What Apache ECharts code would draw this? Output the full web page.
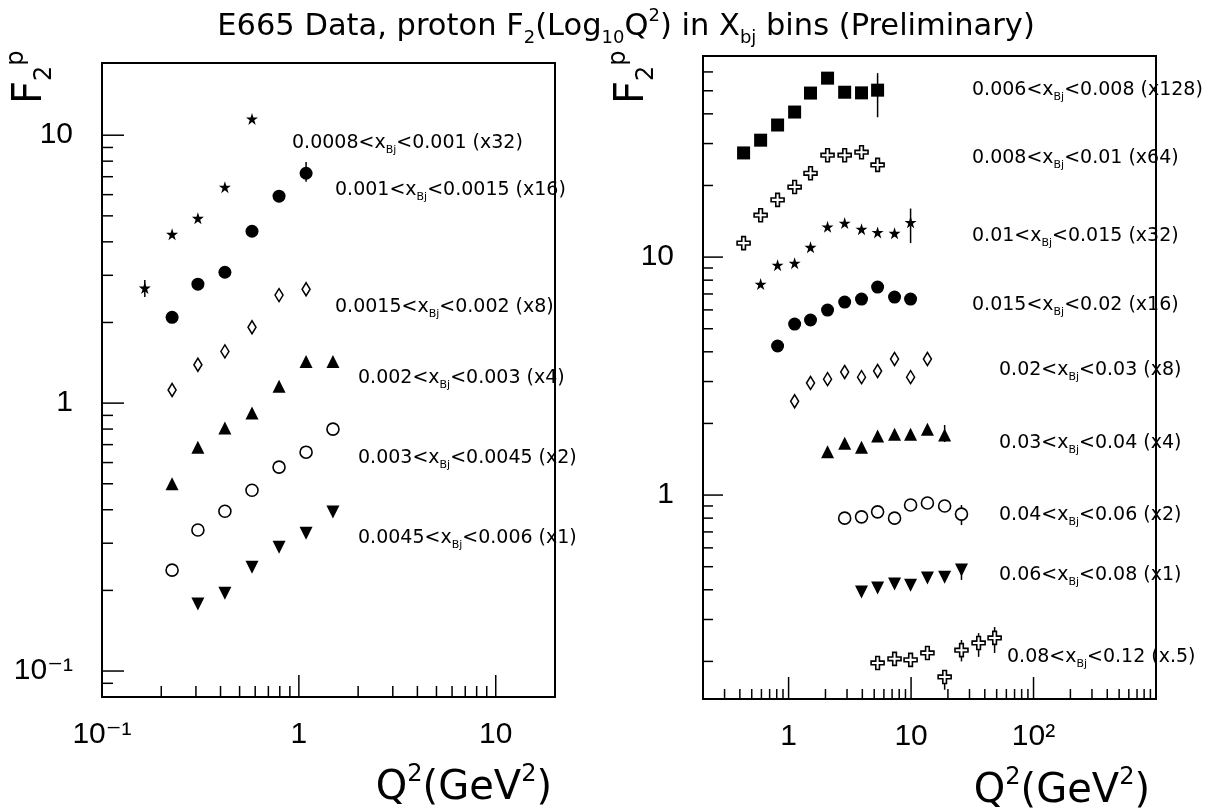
<!DOCTYPE html>
<html><head><meta charset="utf-8">
<script src="https://cdn.jsdelivr.net/npm/echarts@6/dist/echarts.min.js"></script>
<style>html,body{margin:0;padding:0;background:#fff}#c{width:1208px;height:812px}</style>
</head><body><div id="c"></div>
<script>
// ---------------- DATA ----------------
// Left panel (Q2 in GeV2, F2 scaled)
const L32_Q  = [0.165, 0.227, 0.307, 0.421, 0.578];
const L32_F2 = [2.69, 4.27, 4.90, 6.40, 11.5];
const L16_Q  = [0.227, 0.307, 0.421, 0.578, 0.793, 1.088];
const L16_F2 = [2.09, 2.78, 3.08, 4.38, 5.92, 7.21];
const L8_Q   = [0.227, 0.307, 0.421, 0.578, 0.793, 1.088];
const L8_F2  = [1.12, 1.39, 1.56, 1.92, 2.53, 2.66];
const L4_Q   = [0.227, 0.307, 0.421, 0.578, 0.793, 1.088, 1.49];
const L4_F2  = [0.50, 0.685, 0.807, 0.918, 1.157, 1.43, 1.43];
const L2_Q   = [0.227, 0.307, 0.421, 0.578, 0.793, 1.088, 1.49];
const L2_F2  = [0.238, 0.336, 0.395, 0.473, 0.577, 0.656, 0.80];
const L1_Q   = [0.307, 0.421, 0.578, 0.793, 1.088, 1.49];
const L1_F2  = [0.178, 0.195, 0.244, 0.290, 0.327, 0.392];
const L_ERR  = [[0.165, 2.49, 2.88], [1.088, 6.70, 7.94]];

// Right panel
const R128_Q  = [0.429, 0.591, 0.813, 1.12, 1.51, 2.08, 2.87, 3.94, 5.33];
const R128_F2 = [27.4, 31.0, 35.9, 40.7, 48.9, 56.5, 49.3, 49.0, 50.3];
const R64_Q   = [0.429, 0.591, 0.813, 1.12, 1.51, 2.08, 2.87, 3.94, 5.33];
const R64_F2  = [11.45, 15.0, 17.4, 19.7, 22.5, 26.8, 26.8, 27.6, 24.4];
const R32_Q   = [0.591, 0.813, 1.12, 1.51, 2.08, 2.87, 3.94, 5.33, 7.33, 9.91];
const R32_F2  = [7.70, 9.25, 9.43, 11.0, 13.4, 13.9, 13.1, 12.7, 12.6, 14.0];
const R16_Q   = [0.813, 1.12, 1.51, 2.08, 2.87, 3.94, 5.33, 7.33, 9.91];
const R16_F2  = [4.23, 5.23, 5.44, 5.99, 6.47, 6.66, 7.48, 6.79, 6.66];
const R8_Q    = [1.12, 1.51, 2.08, 2.87, 3.94, 5.33, 7.33, 9.91, 13.6];
const R8_F2   = [2.48, 2.96, 3.07, 3.29, 3.13, 3.32, 3.73, 3.13, 3.73];
const R4_Q    = [2.08, 2.87, 3.94, 5.33, 7.33, 9.91, 13.6, 18.8];
const R4_F2   = [1.52, 1.65, 1.59, 1.77, 1.80, 1.80, 1.89, 1.79];
const R2_Q    = [2.87, 3.94, 5.33, 7.33, 9.91, 13.6, 18.8, 25.8];
const R2_F2   = [0.80, 0.81, 0.85, 0.80, 0.908, 0.926, 0.90, 0.832];
const R1_Q    = [3.94, 5.33, 7.33, 9.91, 13.6, 18.8, 25.8];
const R1_F2   = [0.391, 0.407, 0.423, 0.418, 0.448, 0.452, 0.484];
const R05_Q   = [5.33, 7.33, 9.91, 13.6, 18.8, 25.8, 35.6, 48.1];
const R05_F2  = [0.197, 0.205, 0.203, 0.217, 0.172, 0.223, 0.239, 0.251];
const R_ERR   = [[5.33, 38.7, 59.3], [9.91, 11.45, 16.0], [18.8, 1.67, 1.97], [25.8, 0.748, 0.908],
                 [25.8, 0.44, 0.508], [13.6, 0.203, 0.23], [18.8, 0.152, 0.184], [25.8, 0.20, 0.246],
                 [35.6, 0.209, 0.263], [48.1, 0.217, 0.279]];

// Axis ranges and ticks
const L_X_RANGE = [0.1, 20];
const L_Y_RANGE = [0.08, 18.6];
const R_X_RANGE = [0.2, 1000];
const R_Y_RANGE = [0.139, 70];
const L_X_LABELS = [0.1, 1, 10];
const L_Y_LABELS = [0.1, 1, 10];
const R_X_LABELS = [1, 10, 100];
const R_Y_LABELS = [1, 10];
const L_X_MAJOR = [1, 10];
const L_X_MINOR = [0.2, 0.3, 0.4, 0.5, 0.6, 0.7, 0.8, 0.9, 2, 3, 4, 5, 6, 7, 8, 9];
const L_Y_MAJOR = [0.1, 1, 10];
const L_Y_MINOR = [0.09, 0.2, 0.3, 0.4, 0.5, 0.6, 0.7, 0.8, 0.9, 2, 3, 4, 5, 6, 7, 8, 9];
const R_X_MAJOR = [1, 10, 100];
const R_X_MINOR = [0.3, 0.4, 0.5, 0.6, 0.7, 0.8, 0.9, 2, 3, 4, 5, 6, 7, 8, 9,
                   20, 30, 40, 50, 60, 70, 80, 90, 200, 300, 400, 500, 600, 700, 800, 900];
const R_Y_MAJOR = [1, 10];
const R_Y_MINOR = [0.2, 0.3, 0.4, 0.5, 0.6, 0.7, 0.8, 0.9, 2, 3, 4, 5, 6, 7, 8, 9, 20, 30, 40, 50, 60];

// Texts
const TITLE = 'E665 Data, proton F{s|2}(Log{s|10}Q{p|2}) in X{s|bj} bins (Preliminary)';
const X_TITLE = 'Q{p|2}(GeV{p|2})';
const Y_TITLE = 'F{s|2}{p|p}';
const LEFT_LABELS = ['0.0008<x{s|Bj}<0.001 (x32)', '0.001<x{s|Bj}<0.0015 (x16)', '0.0015<x{s|Bj}<0.002 (x8)',
                     '0.002<x{s|Bj}<0.003 (x4)', '0.003<x{s|Bj}<0.0045 (x2)', '0.0045<x{s|Bj}<0.006 (x1)'];
const RIGHT_LABELS = ['0.006<x{s|Bj}<0.008 (x128)', '0.008<x{s|Bj}<0.01 (x64)', '0.01<x{s|Bj}<0.015 (x32)',
                      '0.015<x{s|Bj}<0.02 (x16)', '0.02<x{s|Bj}<0.03 (x8)', '0.03<x{s|Bj}<0.04 (x4)',
                      '0.04<x{s|Bj}<0.06 (x2)', '0.06<x{s|Bj}<0.08 (x1)', '0.08<x{s|Bj}<0.12 (x.5)'];

// ---------------- LAYOUT / STYLE ----------------
const FONT = 'DejaVu Sans';
const NUMFONT = '"Liberation Sans", "DejaVu Sans"';
const STAR = 'path://M50,0L61.8,36.2L100,36.2L69.1,58.8L80.9,95.1L50,72.7L19.1,95.1L30.9,58.8L0,36.2L38.2,36.2Z';
const CROSS = 'path://M36,0H64V36H100V64H64V100H36V64H0V36H36Z';
const LEFT_LABEL_POS = [[292,143],[335,190],[335,307],[358,378],[358,458],[358,538]];
const RIGHT_LABEL_POS = [[972,90],[972,158],[972,236],[972,305],[999,370],[999,443],[999,515],[999,575],[1007,657]];

function fmt(v) {
  const e = Math.log10(v);
  const r = Math.round(e);
  if (Math.abs(e - r) > 1e-6) return '';
  return {'-1': '10\u207B\u00B9', '0': '1', '1': '10', '2': '10\u00B2'}[String(r)] || '';
}
function xAxisCfg(gi, range, labels) {
  return {type: 'log', logBase: 10, gridIndex: gi, min: range[0], max: range[1],
    axisLine: {show: true, onZero: false, lineStyle: {color: '#000', width: 2}},
    axisTick: {show: false}, minorTick: {show: false}, splitLine: {show: false}, minorSplitLine: {show: false},
    axisLabel: {customValues: labels, formatter: fmt, fontFamily: NUMFONT, fontSize: 30, color: '#000',
      margin: 23, showMinLabel: true, showMaxLabel: true, hideOverlap: false}};
}
function yAxisCfg(gi, range, labels) {
  return {type: 'log', logBase: 10, gridIndex: gi, min: range[0], max: range[1],
    axisLine: {show: true, onZero: false, lineStyle: {color: '#000', width: 2}},
    axisTick: {show: false}, minorTick: {show: false}, splitLine: {show: false}, minorSplitLine: {show: false},
    axisLabel: {customValues: labels, formatter: fmt, fontFamily: NUMFONT, fontSize: 30, color: '#000',
      margin: 29, showMinLabel: true, showMaxLabel: true, hideOverlap: false}};
}
function scatter(gi, q, f, symbol, size, open, rotate) {
  return {type: 'scatter', xAxisIndex: gi, yAxisIndex: gi, data: q.map((v, i) => [v, f[i]]),
    symbol: symbol, symbolSize: size, symbolRotate: rotate || 0, silent: true, z: 5, clip: false,
    itemStyle: open ? {color: '#fff', borderColor: '#000', borderWidth: 1.6, opacity: 1}
                    : {color: '#000', opacity: 1}};
}
function ticks(gi, axis, values, fixed, len) {
  return {type: 'custom', xAxisIndex: gi, yAxisIndex: gi, clip: false, silent: true, z: 4,
    data: values.map(v => axis === 'x' ? [v, fixed] : [fixed, v]),
    renderItem: (params, api) => {
      const p = api.coord([api.value(0), api.value(1)]);
      const shape = axis === 'x' ? {x1: p[0], y1: p[1], x2: p[0], y2: p[1] - len}
                                 : {x1: p[0], y1: p[1], x2: p[0] + len, y2: p[1]};
      return {type: 'line', shape: shape, style: {stroke: '#000', lineWidth: 1.5}};
    }};
}
function errbars(gi, errs) {
  return {type: 'custom', xAxisIndex: gi, yAxisIndex: gi, clip: false, silent: true, z: 4,
    data: errs,
    renderItem: (params, api) => {
      const a = api.coord([api.value(0), api.value(1)]);
      const b = api.coord([api.value(0), api.value(2)]);
      return {type: 'line', shape: {x1: a[0], y1: a[1], x2: b[0], y2: b[1]}, style: {stroke: '#000', lineWidth: 1.5}};
    }};
}
function richText(text, x, y, size, align, extra) {
  const sub = Math.round(size * 0.6);
  return Object.assign({type: 'text', x: x, y: y, silent: true, z: 10,
    style: {text: text, fontFamily: FONT, fontSize: size, lineHeight: Math.round(size * 1.3), fill: '#000',
      align: align, verticalAlign: 'middle', textAlign: align, textVerticalAlign: 'middle',
      rich: {
        s: {fontFamily: FONT, fontSize: sub, lineHeight: sub, verticalAlign: 'bottom', fill: '#000'},
        p: {fontFamily: FONT, fontSize: sub, lineHeight: sub, verticalAlign: 'top', fill: '#000'}
      }}}, extra || {});
}

const graphics = [];
graphics.push(richText(TITLE, 626, 27, 30.5, 'center'));
graphics.push(richText(X_TITLE, 552, 789, 40, 'right'));
graphics.push(richText(X_TITLE, 1150, 792, 40, 'right'));
graphics.push(richText(Y_TITLE, 31, 104, 40, 'left', {rotation: Math.PI / 2}));
graphics.push(richText(Y_TITLE, 633, 104, 40, 'left', {rotation: Math.PI / 2}));
LEFT_LABELS.forEach((t, i) => graphics.push(richText(t, LEFT_LABEL_POS[i][0], LEFT_LABEL_POS[i][1], 19, 'left')));
RIGHT_LABELS.forEach((t, i) => graphics.push(richText(t, RIGHT_LABEL_POS[i][0], RIGHT_LABEL_POS[i][1], 19, 'left')));

const option = {
  animation: false,
  backgroundColor: '#fff',
  grid: [
    {left: 102, top: 63, width: 453, height: 634, show: true, borderColor: '#000', borderWidth: 2, backgroundColor: 'transparent'},
    {left: 703, top: 56, width: 453, height: 643, show: true, borderColor: '#000', borderWidth: 2, backgroundColor: 'transparent'}
  ],
  xAxis: [xAxisCfg(0, L_X_RANGE, L_X_LABELS), xAxisCfg(1, R_X_RANGE, R_X_LABELS)],
  yAxis: [yAxisCfg(0, L_Y_RANGE, L_Y_LABELS), yAxisCfg(1, R_Y_RANGE, R_Y_LABELS)],
  series: [
    ticks(0, 'x', L_X_MAJOR, L_Y_RANGE[0], 22), ticks(0, 'x', L_X_MINOR, L_Y_RANGE[0], 11),
    ticks(0, 'y', L_Y_MAJOR, L_X_RANGE[0], 22), ticks(0, 'y', L_Y_MINOR, L_X_RANGE[0], 11),
    ticks(1, 'x', R_X_MAJOR, R_Y_RANGE[0], 22), ticks(1, 'x', R_X_MINOR, R_Y_RANGE[0], 10),
    ticks(1, 'y', R_Y_MAJOR, R_X_RANGE[0], 20), ticks(1, 'y', R_Y_MINOR, R_X_RANGE[0], 10),
    errbars(0, L_ERR), errbars(1, R_ERR),
    scatter(0, L32_Q, L32_F2, STAR, 12, false),
    scatter(0, L16_Q, L16_F2, 'circle', 13, false),
    scatter(0, L8_Q, L8_F2, 'diamond', [8, 13], true),
    scatter(0, L4_Q, L4_F2, 'triangle', 13, false),
    scatter(0, L2_Q, L2_F2, 'circle', 12, true),
    scatter(0, L1_Q, L1_F2, 'triangle', 13, false, 180),
    scatter(1, R128_Q, R128_F2, 'rect', 13, false),
    scatter(1, R64_Q, R64_F2, CROSS, 13, true),
    scatter(1, R32_Q, R32_F2, STAR, 12, false),
    scatter(1, R16_Q, R16_F2, 'circle', 13, false),
    scatter(1, R8_Q, R8_F2, 'diamond', [8, 13], true),
    scatter(1, R4_Q, R4_F2, 'triangle', 13, false),
    scatter(1, R2_Q, R2_F2, 'circle', 12, true),
    scatter(1, R1_Q, R1_F2, 'triangle', 13, false, 180),
    scatter(1, R05_Q, R05_F2, CROSS, 13, true)
  ],
  graphic: graphics
};
const chart = echarts.init(document.getElementById('c'));
chart.setOption(option);
</script>
</body></html>
